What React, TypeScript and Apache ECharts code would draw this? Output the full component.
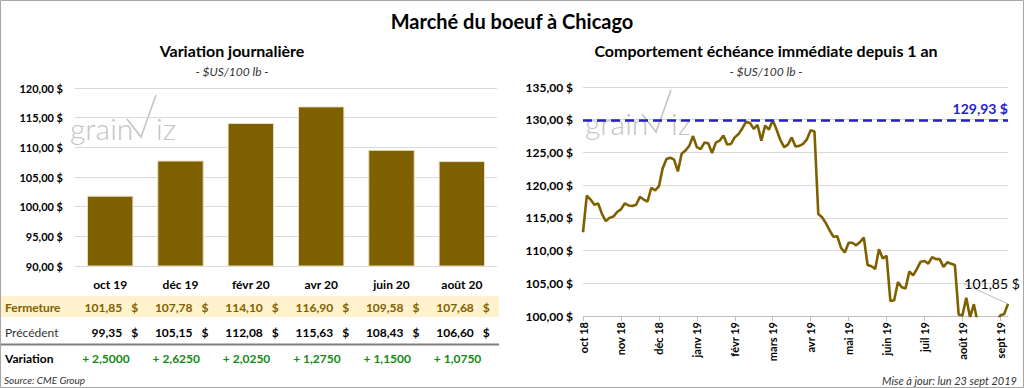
import React, { useEffect, useRef } from 'react';
import * as echarts from 'echarts';

// ---------- Data ----------
const mainTitle = 'Marché du boeuf à Chicago';
const leftTitle = 'Variation journalière';
const rightTitle = 'Comportement échéance immédiate depuis 1 an';
const unitLabel = '- $US/100 lb -';

const contracts = ['oct 19', 'déc 19', 'févr 20', 'avr 20', 'juin 20', 'août 20'];
const closes = [101.85, 107.78, 114.1, 116.9, 109.58, 107.68];
const previous = [99.35, 105.15, 112.08, 115.63, 108.43, 106.6];
const changes = [2.5, 2.625, 2.025, 1.275, 1.15, 1.075];
const rowLabels = ['Fermeture', 'Précédent', 'Variation'];

const monthLabels = ['oct 18', 'nov 18', 'déc 18', 'janv 19', 'févr 19', 'mars 19', 'avr 19', 'mai 19', 'juin 19', 'juil 19', 'août 19', 'sept 19'];
const pointsPerMonth = 10;
const prices = [
  112.8, 118.4, 117.8, 117.0, 117.2, 115.6, 114.5, 115.0, 115.2, 115.9,
  116.3, 117.2, 116.9, 116.8, 117.0, 118.2, 117.8, 117.5, 119.6, 119.2,
  119.8, 122.6, 124.0, 124.2, 123.9, 122.1, 124.8, 125.3, 126.0, 127.5,
  125.8, 125.5, 126.5, 126.4, 124.9, 126.5, 126.8, 127.6, 126.2, 126.3,
  127.3, 127.8, 128.7, 129.7, 129.5, 128.6, 129.2, 126.8, 129.1, 128.5,
  129.9, 128.5, 126.9, 125.8, 126.2, 127.3, 125.9, 126.0, 126.3, 127.0,
  128.4, 128.2, 115.6, 115.1, 114.2, 113.1, 112.1, 112.2, 110.4, 109.7,
  111.2, 111.2, 110.8, 111.3, 112.0, 107.8, 107.6, 107.2, 110.2, 108.8,
  109.2, 102.3, 102.4, 105.2, 104.4, 104.2, 106.8, 106.2, 107.2, 108.3,
  108.4, 108.0, 109.0, 108.7, 108.7, 107.5, 108.2, 108.0, 107.8, 100.2,
  100.1, 102.8, 99.8, 101.8, 99.0, 98.8, 98.6, 98.7, 98.9, 99.2,
  100.1, 100.3, 101.85,
];
const highValue = 129.93;
const sourceText = 'Source: CME Group';
const updateText = 'Mise à jour: lun 23 sept 2019';

// ---------- Helpers ----------
const FONT = 'Lato, "Open Sans", "Noto Sans", sans-serif';
const BROWN = '#7f6000';
const GREEN = '#138a13';
const BLUE = '#1f1fcc';
const fmt2 = (v: number) => v.toFixed(2).replace('.', ',');
const money = (v: number) => fmt2(v) + ' $';

function logo(x: number, base: number) {
  const c = '#c4c4c4';
  return {
    type: 'group',
    x,
    y: base,
    z: -5,
    silent: true,
    children: [
      { type: 'text', x: 0, y: -9, style: { text: 'grain', fill: c, fontSize: 30, fontFamily: FONT, fontWeight: 300, verticalAlign: 'middle' } },
      { type: 'polyline', shape: { points: [[57, -18], [71, 0], [86, -42]] }, style: { stroke: c, lineWidth: 1.6, fill: null } },
      { type: 'text', x: 86, y: -9, style: { text: 'iz', fill: c, fontSize: 30, fontFamily: FONT, fontWeight: 300, verticalAlign: 'middle' } },
    ],
  };
}

export default function App() {
  const ref = useRef<HTMLDivElement>(null);

  useEffect(() => {
    document.body.style.margin = '0';
    const chart = echarts.init(ref.current!, null, { renderer: 'svg' });

    const lineCats = prices.map((_, i) => String(i));
    const lastIdx = prices.length - 1;
    const lineData: any[] = prices.map((v, i) =>
      i === lastIdx
        ? {
            value: v,
            label: { show: true, position: 'top', formatter: money(v), color: '#000', fontSize: 14, fontFamily: FONT },
            labelLine: { show: true, lineStyle: { color: '#bdbdbd', width: 1 } },
          }
        : v
    );

    const tableAxis = (offset: number, data: string[], rich: any) => ({
      type: 'category',
      gridIndex: 0,
      data,
      position: 'bottom',
      offset,
      axisLine: { show: false },
      axisTick: { show: false },
      axisLabel: {
        interval: 0,
        margin: 12,
        formatter: (val: string) => val,
        rich,
      },
    });

    const option: any = {
      animation: false,
      textStyle: { fontFamily: FONT },
      title: [
        { text: mainTitle, left: 512, textAlign: 'center', top: 11, padding: 0, textStyle: { fontSize: 20, fontWeight: 'bold', color: '#000', fontFamily: FONT } },
        { text: leftTitle, left: 232, textAlign: 'center', top: 42, padding: 0, textStyle: { fontSize: 16, fontWeight: 'bold', color: '#000', fontFamily: FONT } },
        { text: unitLabel, left: 232, textAlign: 'center', top: 65, padding: 0, textStyle: { fontSize: 12, fontStyle: 'italic', fontWeight: 'normal', color: '#333', fontFamily: FONT } },
        { text: rightTitle, left: 766, textAlign: 'center', top: 42, padding: 0, textStyle: { fontSize: 16, fontWeight: 'bold', color: '#000', fontFamily: FONT } },
        { text: unitLabel, left: 766, textAlign: 'center', top: 65, padding: 0, textStyle: { fontSize: 12, fontStyle: 'italic', fontWeight: 'normal', color: '#333', fontFamily: FONT } },
      ],
      grid: [
        { left: 75, right: 527, top: 88, bottom: 122 },
        { left: 583, right: 16, top: 87, bottom: 72 },
      ],
      xAxis: [
        {
          type: 'category',
          gridIndex: 0,
          data: contracts,
          axisLine: { show: false },
          axisTick: { show: false },
          axisLabel: { interval: 0, margin: 12, fontSize: 12, fontWeight: 'bold', color: '#000' },
        },
        tableAxis(
          23,
          closes.map((v) => `{n|${fmt2(v)}}{d|$}`),
          {
            n: { width: 40, align: 'right', color: BROWN, fontWeight: 'bold', fontSize: 12, fontFamily: FONT },
            d: { width: 16, align: 'right', color: BROWN, fontWeight: 'bold', fontSize: 12, fontFamily: FONT },
          }
        ),
        tableAxis(
          48,
          previous.map((v) => `{n|${fmt2(v)}}{d|$}`),
          {
            n: { width: 40, align: 'right', color: '#000', fontWeight: 'bold', fontSize: 12, fontFamily: FONT },
            d: { width: 16, align: 'right', color: '#000', fontWeight: 'bold', fontSize: 12, fontFamily: FONT },
          }
        ),
        tableAxis(
          74,
          changes.map((v) => `{v|+ ${v.toFixed(4).replace('.', ',')}}`),
          {
            v: { width: 56, align: 'left', color: GREEN, fontWeight: 'bold', fontSize: 12, fontFamily: FONT },
          }
        ),
        {
          type: 'category',
          gridIndex: 1,
          data: lineCats,
          boundaryGap: false,
          axisLine: { show: true, lineStyle: { color: '#bfbfbf', width: 1 } },
          axisTick: {
            show: true,
            length: 5,
            interval: (i: number) => i % pointsPerMonth === 0,
            lineStyle: { color: '#bfbfbf' },
          },
          axisLabel: {
            interval: (i: number) => i % pointsPerMonth === 0,
            rotate: 90,
            margin: 6,
            fontSize: 11,
            fontWeight: 'bold',
            color: '#000',
            formatter: (_v: string, i: number) => monthLabels[i / pointsPerMonth] || '',
          },
          splitLine: { show: false },
        },
      ],
      yAxis: [
        {
          type: 'value',
          gridIndex: 0,
          min: 90,
          max: 120,
          interval: 5,
          axisLine: { show: false },
          axisTick: { show: false },
          axisLabel: { margin: 12, fontSize: 11, fontWeight: 'bold', color: '#000', formatter: (v: number) => money(v) },
          splitLine: { lineStyle: { color: '#d9d9d9', width: 1 } },
        },
        {
          type: 'value',
          gridIndex: 1,
          min: 100,
          max: 135,
          interval: 5,
          axisLine: { show: false },
          axisTick: { show: false },
          axisLabel: { margin: 10, fontSize: 12, fontWeight: 'bold', color: '#000', formatter: (v: number) => money(v) },
          splitLine: { lineStyle: { color: '#d9d9d9', width: 1 } },
        },
      ],
      series: [
        {
          type: 'bar',
          xAxisIndex: 0,
          yAxisIndex: 0,
          data: closes,
          barCategoryGap: '34%',
          itemStyle: { color: BROWN, borderColor: '#e9dfc0', borderWidth: 1 },
          silent: true,
        },
        {
          type: 'line',
          xAxisIndex: 4,
          yAxisIndex: 1,
          data: lineData,
          showSymbol: true,
          showAllSymbol: true,
          symbol: 'circle',
          symbolSize: 0,
          lineStyle: { color: BROWN, width: 2.6 },
          itemStyle: { color: BROWN },
          clip: true,
          silent: true,
          labelLayout: (params: any) => (params.dataIndex === lastIdx ? { dx: -16, dy: -8 } : {}),
          markLine: {
            silent: true,
            symbol: 'none',
            data: [{ yAxis: highValue }],
            lineStyle: { color: BLUE, type: [9, 5], width: 2.5 },
            label: {
              position: 'insideEndTop',
              formatter: money(highValue),
              color: BLUE,
              fontWeight: 'bold',
              fontSize: 14,
              fontFamily: FONT,
              distance: [0, 5],
            },
          },
        },
      ],
      graphic: [
        { type: 'rect', z: -10, silent: true, shape: { x: 1, y: 296, width: 498, height: 21 }, style: { fill: '#fff2cc' } },
        { type: 'line', z: 5, silent: true, shape: { x1: 1, y1: 344.5, x2: 499, y2: 344.5 }, style: { stroke: '#7f7f7f', lineWidth: 2 } },
        { type: 'text', x: 5, y: 307, style: { text: rowLabels[0], fill: BROWN, fontSize: 12, fontWeight: 'bold', fontFamily: FONT, verticalAlign: 'middle' } },
        { type: 'text', x: 5, y: 332, style: { text: rowLabels[1], fill: '#333', fontSize: 12, fontWeight: 'normal', fontFamily: FONT, verticalAlign: 'middle' } },
        { type: 'text', x: 5, y: 358, style: { text: rowLabels[2], fill: '#000', fontSize: 12, fontWeight: 'bold', fontFamily: FONT, verticalAlign: 'middle' } },
        { type: 'text', x: 4, y: 380, style: { text: sourceText, fill: '#333', fontSize: 10, fontStyle: 'italic', fontFamily: FONT, verticalAlign: 'middle' } },
        { type: 'text', x: 1017, y: 380, style: { text: updateText, fill: '#333', fontSize: 11, fontStyle: 'italic', fontFamily: FONT, align: 'right', verticalAlign: 'middle' } },
        logo(70, 137),
        logo(585, 132),
        { type: 'rect', z: 20, silent: true, shape: { x: 0.5, y: 0.5, width: 1023, height: 387 }, style: { fill: null, stroke: '#a6a6a6', lineWidth: 1 } },
      ],
    };

    chart.setOption(option);
    return () => chart.dispose();
  }, []);

  return <div ref={ref} style={{ width: 1024, height: 388 }} />;
}
